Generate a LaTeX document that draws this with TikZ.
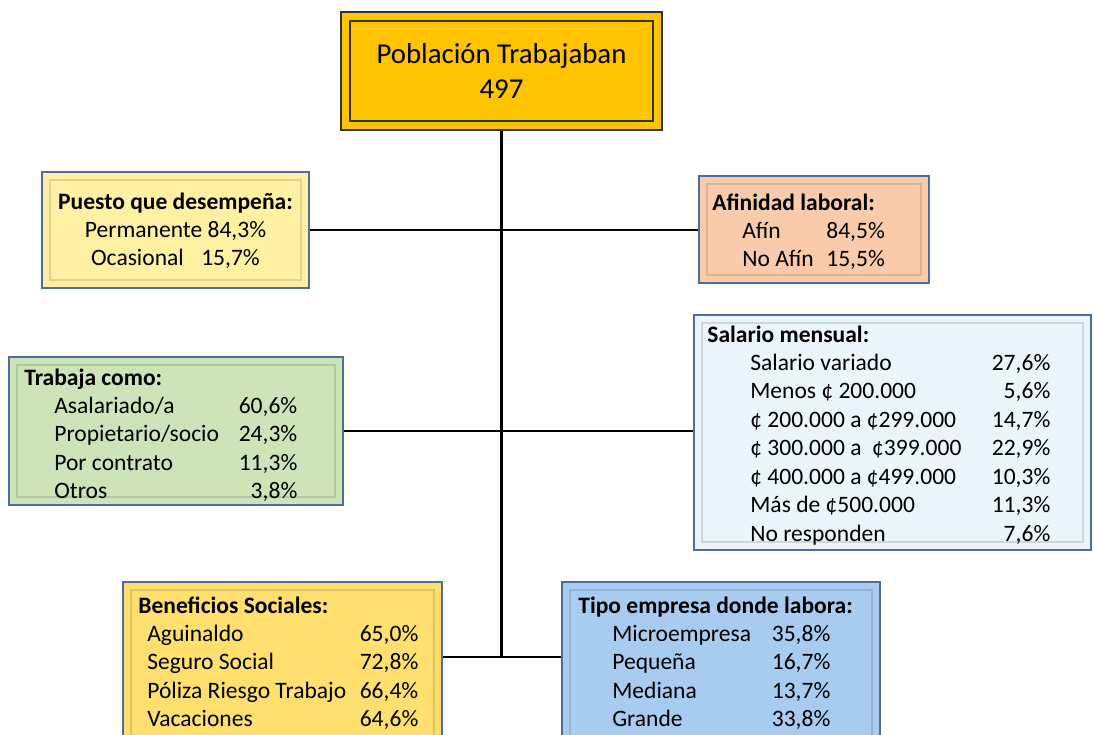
\documentclass[tikz,border=0pt]{standalone}
\usepackage{fontspec}
\setmainfont{Carlito}
\definecolor{boxline}{HTML}{4F6C9C}
\definecolor{pobfill}{HTML}{FFC300}
\definecolor{puestofill}{HTML}{FFF0A2}
\definecolor{afinfill}{HTML}{F9CBAA}
\definecolor{trabfill}{HTML}{CCE4B8}
\definecolor{salfill}{HTML}{EAF6FC}
\definecolor{benfill}{HTML}{FFE06E}
\definecolor{tipofill}{HTML}{A8CCF0}
\begin{document}
\begin{tikzpicture}[
x=0.02cm, y=-0.02cm,
box/.style={
draw=boxline,
line width=1.1pt,
inner sep=0pt
},
txt/.style={
inner sep=0pt,
anchor=base west,
font=\fontsize{13.4}{16.2}\selectfont
},
bevel/.style={draw=black, draw opacity=0.12, line width=0.8pt},
link/.style={draw=black, line width=0.8pt}
]

\clip (0,0) rectangle (1094,734);
\fill[white] (0,0) rectangle (1094,734);

\node[box, fill=pobfill, draw=black!80, line width=1.4pt,
minimum width=6.42cm, minimum height=2.36cm,
align=center, font=\fontsize{16.4}{19.9}\selectfont] (pob)
at (501.5,71)
{Población Trabajaban\\497};
\draw[black!80, line width=1.1pt] ([shift={(10,-10)}]pob.south west) rectangle ([shift={(-10,10)}]pob.north east);

\node[box, fill=puestofill, minimum width=5.34cm, minimum height=2.32cm] (puesto)
at (175.5,230) {};

\node[box, fill=afinfill, minimum width=4.6cm, minimum height=2.14cm] (afin)
at (814,229.5) {};

\node[box, fill=trabfill, minimum width=6.68cm, minimum height=2.96cm] (trabaja)
at (176,431) {};

\node[box, fill=salfill, minimum width=7.94cm, minimum height=4.7cm] (salario)
at (892.5,432.5) {};

\node[box, fill=benfill, minimum width=6.38cm, minimum height=3.56cm] (benef)
at (282.5,671) {};

\node[box, fill=tipofill, minimum width=6.36cm, minimum height=3.56cm] (tipo)
at (721,671) {};

\foreach \b in {puesto,afin,trabaja,salario,benef,tipo}{
\draw[bevel] ([shift={(9,-9)}]\b.south west) rectangle ([shift={(-9,9)}]\b.north east);
}

\node[txt, anchor=base] (puesto-t)
at (175.5,209)
{\begin{tabular}[t]{@{}c@{}}
\textbf{Puesto que desempeña:}\\
Permanente 84,3\%\\
Ocasional\hspace{0.35cm}15,7\%
\end{tabular}};

\node[txt] (afin-t)
at (712,210)
{\begin{tabular}[t]{@{}p{0.6cm}@{}p{1.68cm}@{}l@{}}
\multicolumn{3}{@{}l@{}}{\rlap{\textbf{Afinidad laboral:}}}\\
& Afín & 84,5\%\\
& No Afín & 15,5\%
\end{tabular}};

\node[txt] (trabaja-t)
at (24,385)
{\begin{tabular}[t]{@{}p{0.6cm}@{}p{3.69cm}@{}r@{}}
\multicolumn{3}{@{}l@{}}{\rlap{\textbf{Trabaja como:}}}\\
& Asalariado/a & 60,6\%\\
& Propietario/socio & 24,3\%\\
& Por contrato & 11,3\%\\
& Otros & 3,8\%
\end{tabular}};

\node[txt] (salario-t)
at (707,342)
{\begin{tabular}[t]{@{}p{0.86cm}@{}p{4.83cm}@{}r@{}}
\multicolumn{3}{@{}l@{}}{\rlap{\textbf{Salario mensual:}}}\\
& Salario variado & 27,6\%\\
& Menos ¢ 200.000 & 5,6\%\\
& ¢ 200.000 a ¢299.000 & 14,7\%\\
& ¢ 300.000 a~ ¢399.000 & 22,9\%\\
& ¢ 400.000 a ¢499.000 & 10,3\%\\
& Más de ¢500.000 & 11,3\%\\
& No responden & 7,6\%
\end{tabular}};

\node[txt] (benef-t)
at (138,613)
{\begin{tabular}[t]{@{}p{0.18cm}@{}p{4.25cm}@{}r@{}}
\multicolumn{3}{@{}l@{}}{\rlap{\textbf{Beneficios Sociales:}}}\\
& Aguinaldo & 65,0\%\\
& Seguro Social & 72,8\%\\
& Póliza Riesgo Trabajo & 66,4\%\\
& Vacaciones & 64,6\%
\end{tabular}};

\node[txt] (tipo-t)
at (578,613)
{\begin{tabular}[t]{@{}p{0.68cm}@{}p{3.19cm}@{}r@{}}
\multicolumn{3}{@{}l@{}}{\rlap{\textbf{Tipo empresa donde labora:}}}\\
& Microempresa & 35,8\%\\
& Pequeña & 16,7\%\\
& Mediana & 13,7\%\\
& Grande & 33,8\%
\end{tabular}};

\coordinate (hub) at (pob.south |- 0,657);

\draw[link, line width=1.4pt] (pob.south) -- (hub);
\draw[link] (puesto.east) -- (puesto.east -| afin.west);
\draw[link] (trabaja.east) -- (trabaja.east -| salario.west);
\draw[link] (benef.east |- hub) -- (tipo.west |- hub);

\end{tikzpicture}
\end{document}
